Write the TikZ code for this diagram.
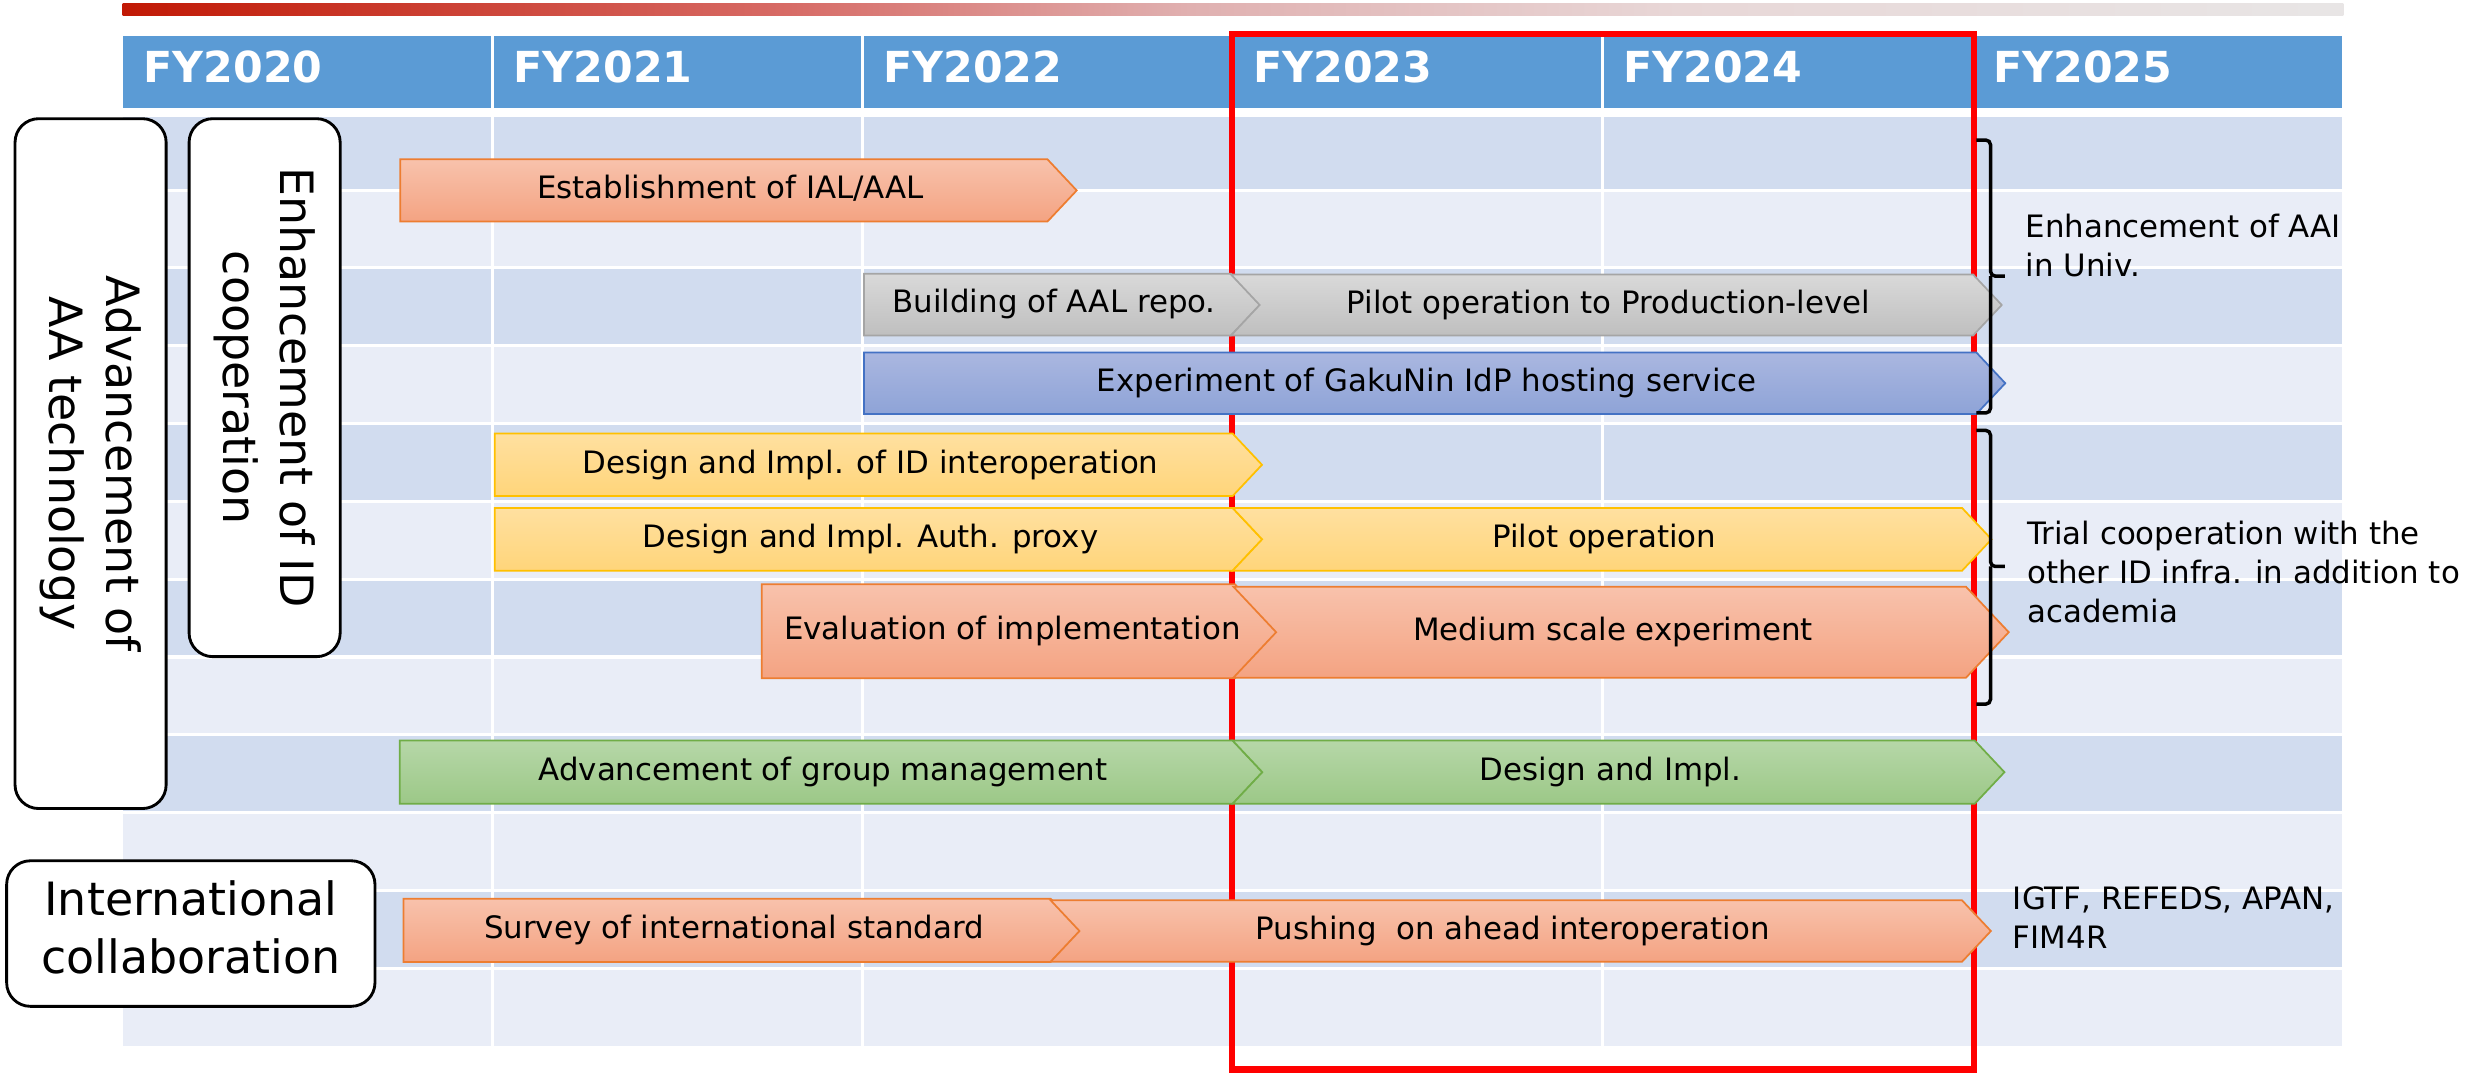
\documentclass[tikz,border=0pt]{standalone}
\usepackage{fontspec}
\setmainfont{DejaVu Sans}
\pgfdeclarehorizontalshading{topbar}{100bp}{rgb(0bp)=(0.757,0.098,0.02); rgb(25bp)=(0.757,0.098,0.02); rgb(40bp)=(0.843,0.42,0.40); rgb(49bp)=(0.878,0.69,0.69); rgb(60bp)=(0.91,0.843,0.843); rgb(75bp)=(0.91,0.90,0.90); rgb(100bp)=(0.91,0.90,0.90)}
\definecolor{hdr}{RGB}{91,155,213}
\definecolor{rowd}{RGB}{209,220,239}
\definecolor{rowl}{RGB}{233,237,247}
\definecolor{salT}{RGB}{248,194,172}\definecolor{salB}{RGB}{244,163,130}\definecolor{salE}{RGB}{237,125,49}
\definecolor{gryT}{RGB}{217,217,217}\definecolor{gryB}{RGB}{191,191,191}\definecolor{gryE}{RGB}{165,165,165}
\definecolor{bluT}{RGB}{170,183,224}\definecolor{bluB}{RGB}{142,163,215}\definecolor{bluE}{RGB}{68,114,196}
\definecolor{yelT}{RGB}{255,224,160}\definecolor{yelB}{RGB}{255,213,122}\definecolor{yelE}{RGB}{255,192,0}
\definecolor{grnT}{RGB}{182,215,168}\definecolor{grnB}{RGB}{156,200,135}\definecolor{grnE}{RGB}{112,173,71}
\tikzset{
  sal/.style={top color=salT, bottom color=salB, draw=salE, line width=1.1},
  gry/.style={top color=gryT, bottom color=gryB, draw=gryE, line width=1.1},
  blu/.style={top color=bluT, bottom color=bluB, draw=bluE, line width=1.1},
  yel/.style={top color=yelT, bottom color=yelB, draw=yelE, line width=1.1},
  grn/.style={top color=grnT, bottom color=grnB, draw=grnE, line width=1.1},
  lbl/.style={font=\fontsize{19.5}{24}\selectfont, inner sep=0pt, text height=14.5pt, text depth=4pt},
  fy/.style={font=\fontsize{27}{30}\selectfont\bfseries, text=white, inner sep=0pt},
  catbox/.style={draw=black, fill=white, line width=1.8, rounded corners=15pt, inner sep=0pt},
  cattxt/.style={font=\fontsize{29}{36.5}\selectfont, align=center, inner sep=0pt},
  rtxt/.style={font=\fontsize{19.5}{24.5}\selectfont, align=left, inner sep=0pt},
  bracket/.style={draw=black, line width=2.2, rounded corners=3pt},
  gridline/.style={draw=white, line width=2}
}
\newcommand{\arrpent}[7]{%
  \path[#1] (#3,#5) -- (#4,#5) -- ({#4+0.47*(#6-#5)},{(#5+#6)/2}) -- (#4,#6) -- (#3,#6) -- cycle;
  \node[lbl] (#2) at ({(#3+#4+0.47*(#6-#5))/2-5},{(#5+#6)/2}) {#7};}
\newcommand{\arrchev}[7]{%
  \path[#1] (#3,#5) -- (#4,#5) -- ({#4+0.47*(#6-#5)},{(#5+#6)/2}) -- (#4,#6) -- (#3,#6) -- ({#3+0.47*(#6-#5)},{(#5+#6)/2}) -- cycle;
  \node[lbl] (#2) at ({(#3+#4+0.47*(#6-#5))/2-5},{(#5+#6)/2}) {#7};}
\begin{document}
\begin{tikzpicture}[x=1pt,y=-1pt]
\useasboundingbox (0,0) rectangle (1568,678.1);
% top gradient bar
\path[shading=topbar] (77.5,2.5) rectangle (1481,10);
% header
\fill[hdr] (77.5,22.8) rectangle (1480.3,68.4);
% rows
\foreach \t/\b/\c in {73.8/120.5/rowd,120.5/169.3/rowl,169.3/218.5/rowd,218.5/267.7/rowl,267.7/316.8/rowd,316.8/366/rowl,366/415.2/rowd,415.2/464.4/rowl,464.4/513.6/rowd,513.6/562.8/rowl,562.8/612/rowd,612/661.2/rowl}
  \fill[\c] (77.5,\t) rectangle (1480.3,\b);
\foreach \y in {120.5,169.3,218.5,267.7,316.8,366,415.2,464.4,513.6,562.8,612}
  \draw[gridline] (77.5,\y) -- (1480.3,\y);
\foreach \x in {311.3,545.1,778.9,1012.7,1246.5}
  \draw[gridline] (\x,22.8) -- (\x,661.2);
% year labels
\foreach \i/\yr in {0/2020,1/2021,2/2022,3/2023,4/2024,5/2025}
  \node[fy, anchor=base west] (fy\yr) at ({77.5+233.8*\i+13},52.3) {FY\yr};
% red frame
\draw[red, line width=4] (778.7,21.5) rectangle (1247.5,676);
% arrows
\arrpent{sal}{a1}{253}{662}{100.7}{140}{Establishment of IAL/AAL}
\arrpent{gry}{a2}{546}{778}{173}{212}{Building of AAL repo.}
\arrchev{gry}{a3}{778}{1247}{173.5}{212}{Pilot operation to Production-level}
\arrpent{blu}{a4}{546}{1249}{222.7}{261.7}{Experiment of GakuNin IdP hosting service}
\arrpent{yel}{a5}{312.7}{779}{274}{313.5}{Design and Impl. of ID interoperation}
\arrpent{yel}{a6}{312.7}{779}{321}{360.7}{Design and Impl. Auth. proxy}
\arrchev{yel}{a7}{779}{1240}{321}{360.7}{Pilot operation}
\arrpent{sal}{a8}{481.4}{780.5}{369.3}{428.7}{Evaluation of implementation}
\arrchev{sal}{a9}{779.5}{1242.5}{370.8}{428.3}{Medium scale experiment}
\arrpent{grn}{a10}{252.6}{779}{468}{508}{Advancement of group management}
\arrchev{grn}{a11}{779}{1248}{468}{508}{Design and Impl.}
\arrpent{sal}{a12}{255}{664}{568}{608}{Survey of international standard}
\arrchev{sal}{a13}{664}{1240}{569}{607.8}{Pushing\ \ on ahead interoperation}
% category boxes
\node[catbox, minimum width=95.5pt, minimum height=436pt] (advbox) at (57.25,293) {};
\node[cattxt, rotate=-90] (advtxt) at (advbox.center) {Advancement of\\AA technology};
\node[catbox, minimum width=95.5pt, minimum height=340pt] (enhbox) at (167.25,245) {};
\node[cattxt, rotate=-90] (enhtxt) at (enhbox.center) {Enhancement of ID\\cooperation};
\node[catbox, minimum width=232.8pt, minimum height=92pt] (intbox) at (120.6,590) {};
\node[cattxt] (inttxt) at (120.6,586) {International\\collaboration};
% brackets
\draw[bracket] (1249,88.5) -| (1258,174.5) -- (1267,174.5);
\draw[bracket] (1258,174.5) |- (1249,261);
\draw[bracket] (1249,272) -| (1258,358) -- (1267,358);
\draw[bracket] (1258,358) |- (1249,445);
% right notes
\node[rtxt, anchor=north west] (aai) at (1280,135.2) {Enhancement of AAI\\in Univ.};
\node[rtxt, anchor=north west] (trial) at (1281,329.2) {Trial cooperation with the\\other ID infra. in addition to\\academia};
\node[rtxt, anchor=north west] (igtf) at (1272,560.3) {IGTF, REFEDS, APAN,\\FIM4R};
\end{tikzpicture}
\end{document}
